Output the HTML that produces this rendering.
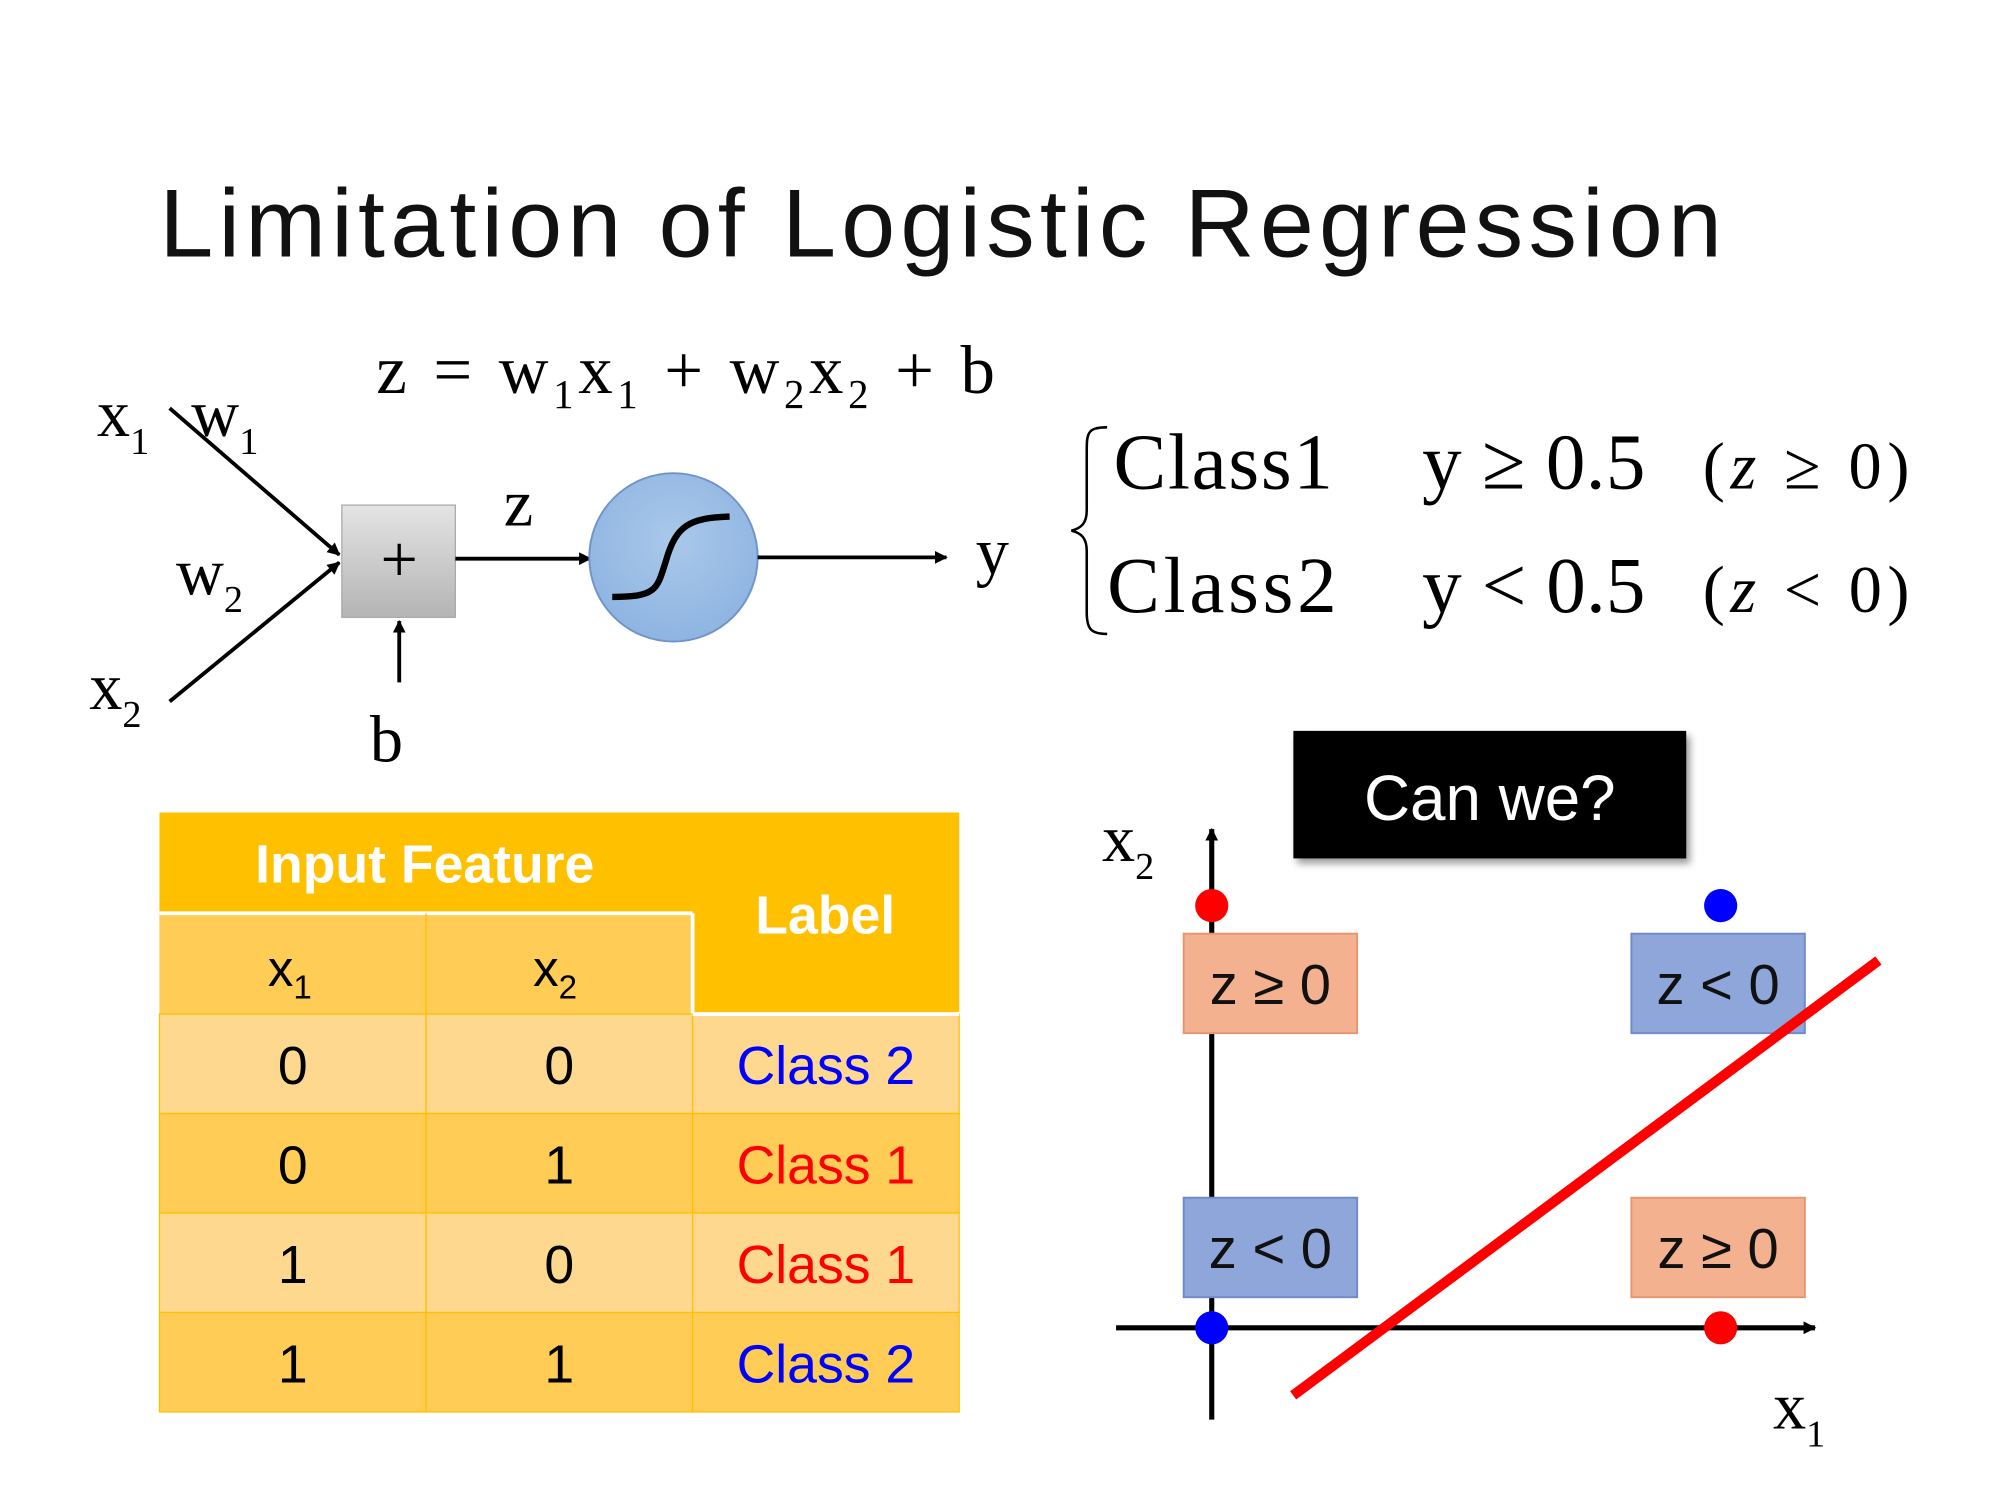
<!DOCTYPE html>
<html><head><meta charset="utf-8"><style>
html,body{margin:0;padding:0;background:#fff;}
svg{display:block;}
</style></head><body>
<svg id="s" width="2000" height="1500" viewBox="0 0 1568 1176" xmlns="http://www.w3.org/2000/svg">
<defs>
<marker id="ah" markerWidth="10" markerHeight="10" refX="9" refY="5" orient="auto" markerUnits="userSpaceOnUse"><path d="M0,0 L10,5 L0,10 z" fill="#000"/></marker>
<linearGradient id="gbox" x1="0" y1="0" x2="0" y2="1"><stop offset="0" stop-color="#e4e4e4"/><stop offset="1" stop-color="#b4b4b4"/></linearGradient>
<radialGradient id="gcirc" cx="0.5" cy="0.4" r="0.6"><stop offset="0" stop-color="#a9c8ea"/><stop offset="1" stop-color="#8fb4e2"/></radialGradient>
<filter id="sh" x="-10%" y="-10%" width="130%" height="140%"><feDropShadow dx="3" dy="4" stdDeviation="3" flood-opacity="0.4"/></filter>
</defs>
<text x="125" y="201" font-family="Liberation Sans, sans-serif" font-size="76" fill="#111" textLength="1225">Limitation of Logistic Regression</text>

<g font-family="Liberation Serif, serif" fill="#000">
<text x="295" y="308" font-size="54" textLength="485">z = w<tspan font-size="32" dy="12">1</tspan><tspan dy="-12">x</tspan><tspan font-size="32" dy="12">1</tspan><tspan dy="-12"> + w</tspan><tspan font-size="32" dy="12">2</tspan><tspan dy="-12">x</tspan><tspan font-size="32" dy="12">2</tspan><tspan dy="-12"> + b</tspan></text>
</g>

<g font-family="Liberation Serif, serif" font-size="52" fill="#000">
<text x="76" y="342">x<tspan font-size="30" dy="14">1</tspan></text>
<text x="150" y="342">w<tspan font-size="30" dy="14">1</tspan></text>
<text x="138" y="466">w<tspan font-size="30" dy="14">2</tspan></text>
<text x="70" y="556">x<tspan font-size="30" dy="14">2</tspan></text>
<line x1="133" y1="320" x2="266" y2="435" stroke="#000" stroke-width="3" marker-end="url(#ah)"/>
<line x1="133" y1="550" x2="266" y2="441" stroke="#000" stroke-width="3" marker-end="url(#ah)"/>
<rect x="268" y="396" width="89" height="88" fill="url(#gbox)" stroke="#aaa"/>
<text x="313" y="456" text-anchor="middle" font-size="52">+</text>
<line x1="313" y1="535" x2="313" y2="487" stroke="#000" stroke-width="3" marker-end="url(#ah)"/>
<text x="290" y="597">b</text>
<line x1="357" y1="438" x2="463" y2="438" stroke="#000" stroke-width="3" marker-end="url(#ah)"/>
<text x="395" y="412">z</text>
<circle cx="528" cy="437" r="66" fill="url(#gcirc)" stroke="#6f94c8" stroke-width="1.5"/>
<path d="M480,468 C515,468 515,462 522,440 C530,412 540,406 572,405" fill="none" stroke="#000" stroke-width="5"/>
<line x1="594" y1="437" x2="742" y2="437" stroke="#000" stroke-width="3" marker-end="url(#ah)"/>
<text x="765" y="450">y</text>
</g>

<g font-family="Liberation Serif, serif" fill="#000">
<path d="M868,335 C852,335 852,340 852,355 L852,400 C852,410 848,414 840,416 C848,418 852,422 852,432 L852,480 C852,494 856,497 868,497" fill="none" stroke="#000" stroke-width="2"/>
<text x="873" y="383" font-size="62" textLength="172">Class1</text>
<text x="1115" y="383" font-size="62" textLength="175">y ≥ 0.5</text>
<text x="1335" y="383" font-size="52" textLength="162">(<tspan font-style="italic">z</tspan> ≥ 0)</text>
<text x="868" y="480" font-size="62" textLength="180">Class2</text>
<text x="1115" y="480" font-size="62" textLength="175">y &lt; 0.5</text>
<text x="1335" y="480" font-size="52" textLength="162">(<tspan font-style="italic">z</tspan> &lt; 0)</text>
</g>

<g id="table" font-family="Liberation Sans, sans-serif">
<rect x="125" y="637" width="627" height="158" fill="#FFC000"/>
<rect x="125" y="716" width="418" height="79" fill="#FFCC55"/>
<line x1="125" y1="716" x2="543" y2="716" stroke="#fff" stroke-width="3"/>
<line x1="543" y1="716" x2="543" y2="795" stroke="#fff" stroke-width="3"/>
<line x1="334" y1="716" x2="334" y2="795" stroke="#FFC000" stroke-width="1"/>
<text x="333" y="692" text-anchor="middle" font-size="42" font-weight="bold" fill="#fff">Input Feature</text>
<text x="647" y="732" text-anchor="middle" font-size="42" font-weight="bold" fill="#fff">Label</text>
<text x="210" y="773" font-size="40" fill="#000">x<tspan font-size="26" dy="10">1</tspan></text>
<text x="418" y="773" font-size="40" fill="#000">x<tspan font-size="26" dy="10">2</tspan></text>
</g>

<g id="plot">
<line x1="950" y1="1113" x2="950" y2="650" stroke="#000" stroke-width="4" marker-end="url(#ah)"/>
<line x1="875" y1="1041" x2="1423" y2="1041" stroke="#000" stroke-width="4" marker-end="url(#ah)"/>
<text x="864" y="675" font-family="Liberation Serif, serif" font-size="52">x<tspan font-size="30" dy="14">2</tspan></text>
<text x="1390" y="1120" font-family="Liberation Serif, serif" font-size="52">x<tspan font-size="30" dy="14">1</tspan></text>
</g>
<g id="canwe" filter="url(#sh)">
<rect x="1014" y="573" width="308" height="100" fill="#000"/>
<text x="1168" y="643" text-anchor="middle" font-family="Liberation Sans, sans-serif" font-size="50" fill="#fff">Can we?</text>
</g>
</svg>
<script>
const rowsX1=[0,0,1,1];
const rowsX2=[0,1,0,1];
const rowLabels=["Class 2","Class 1","Class 1","Class 2"];
const pointX=[0,0,1,1];
const pointY=[0,1,0,1];
const pointCls=[2,1,1,2];
const regionLabels=["z ≥ 0","z < 0","z < 0","z ≥ 0"];
const regionX=[0,1,0,1];
const regionY=[1,1,0,0];
const lineX=[0.16,1.31];
const lineY=[-0.16,0.87];

const NS="http://www.w3.org/2000/svg";
function mk(t,a,p){const e=document.createElementNS(NS,t);for(const k in a)e.setAttribute(k,a[k]);p.appendChild(e);return e;}
const tbl=document.getElementById('table');
const colX=[125,334,543,752];
for(let i=0;i<rowsX1.length;i++){
  const y=795+i*78;
  const bg=i%2===0?"#FFD88F":"#FFCC55";
  for(let c=0;c<3;c++){
    const r=mk('rect',{x:colX[c],y:y,width:colX[c+1]-colX[c],height:78,fill:bg,stroke:"#FFC000","stroke-width":1},tbl);
    
    
  }
  const vals=[rowsX1[i],rowsX2[i],rowLabels[i]];
  for(let c=0;c<3;c++){
    const t=mk('text',{x:(colX[c]+colX[c+1])/2,y:y+55,"text-anchor":"middle","font-size":42,fill:c<2?"#000":(rowLabels[i]==="Class 1"?"#f00":"#00f")},tbl);
    t.textContent=vals[c];
    
    
  }
}
mk('line',{x1:543,y1:795,x2:752,y2:795,stroke:"#fff","stroke-width":3},tbl);
const plot=document.getElementById('plot');
const sx=v=>950+v*399, sy=v=>1041-v*331;
regionLabels.forEach((lab,i)=>{
  const orange=lab.indexOf("≥")>=0;
  const cx=regionX[i]?1347:996, cy=regionY[i]?771:978;
  const g=mk('g',{},plot);
  
  
  mk('rect',{x:cx-68,y:cy-39,width:136,height:78,fill:orange?"#F4B18F":"#8EA6DA",stroke:orange?"#E8956F":"#6E8AC8","stroke-width":1.5},g);
  const t=mk('text',{x:cx,y:cy+16,"text-anchor":"middle","font-family":"Liberation Sans, sans-serif","font-size":44,fill:"#111"},g);
  t.textContent=lab;
});
const ln=mk('line',{x1:sx(lineX[0]),y1:sy(lineY[0]),x2:sx(lineX[1]),y2:sy(lineY[1]),stroke:"#f00","stroke-width":8},plot);


for(let i=0;i<pointX.length;i++){
  const c=mk('circle',{cx:sx(pointX[i]),cy:sy(pointY[i]),r:13,fill:pointCls[i]===1?"#f00":"#00f"},plot);
  
  
}
</script>
</body></html>
